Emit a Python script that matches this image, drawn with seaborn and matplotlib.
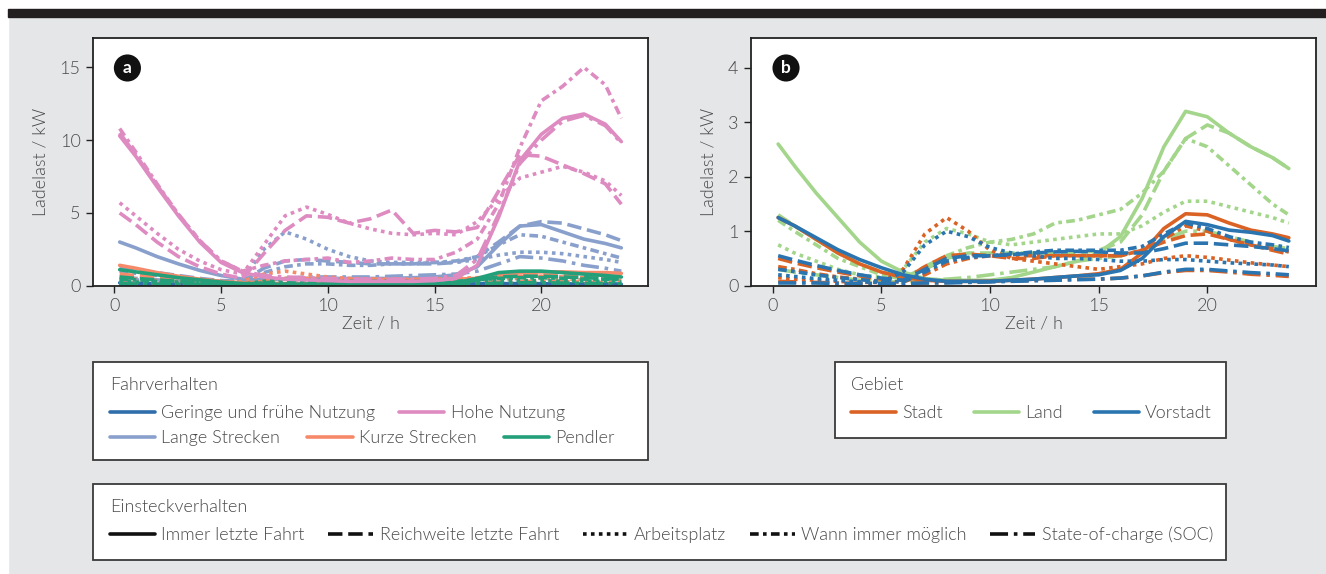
import numpy as np
import pandas as pd
import matplotlib
matplotlib.use('Agg')
import matplotlib.pyplot as plt
from matplotlib.lines import Line2D
from matplotlib.patches import Rectangle
import seaborn as sns

# Zeitachse (h)
ZEIT = [0.25, 1, 2, 3, 4, 5, 6, 7, 8, 9, 10, 11, 12, 13, 14, 15, 16, 17, 18, 19, 20, 21, 22, 23, 23.75]

STECKER = ['Immer letzte Fahrt', 'Reichweite letzte Fahrt', 'Arbeitsplatz',
           'Wann immer möglich', 'State-of-charge (SOC)']

# Panel a: Fahrverhalten
FAHR = ['Geringe und frühe Nutzung', 'Hohe Nutzung', 'Lange Strecken', 'Kurze Strecken', 'Pendler']

geringe_immer = [0.2, 0.17, 0.13, 0.1, 0.07, 0.05, 0.04, 0.04, 0.05, 0.06, 0.07, 0.08, 0.08, 0.09, 0.09, 0.1, 0.1, 0.12, 0.14, 0.15, 0.14, 0.12, 0.11, 0.1, 0.1]
geringe_reich = [0.12, 0.1, 0.08, 0.06, 0.05, 0.04, 0.04, 0.05, 0.07, 0.08, 0.09, 0.1, 0.1, 0.1, 0.1, 0.1, 0.1, 0.11, 0.12, 0.12, 0.12, 0.1, 0.1, 0.09, 0.08]
geringe_arbeit = [0.08, 0.07, 0.06, 0.05, 0.04, 0.04, 0.06, 0.12, 0.15, 0.14, 0.12, 0.1, 0.1, 0.09, 0.09, 0.08, 0.08, 0.08, 0.08, 0.08, 0.08, 0.07, 0.07, 0.06, 0.06]
geringe_wann = [0.1, 0.09, 0.07, 0.06, 0.05, 0.04, 0.04, 0.06, 0.08, 0.09, 0.1, 0.1, 0.11, 0.11, 0.11, 0.11, 0.11, 0.12, 0.13, 0.13, 0.12, 0.11, 0.1, 0.09, 0.09]
geringe_soc = [0.04, 0.04, 0.03, 0.03, 0.02, 0.02, 0.02, 0.03, 0.03, 0.04, 0.04, 0.04, 0.05, 0.05, 0.05, 0.05, 0.05, 0.05, 0.06, 0.06, 0.06, 0.05, 0.05, 0.05, 0.04]

hohe_immer = [10.3, 8.9, 6.8, 4.8, 3.0, 1.6, 0.9, 0.6, 0.45, 0.4, 0.35, 0.3, 0.3, 0.3, 0.3, 0.35, 0.5, 1.4, 4.7, 8.6, 10.4, 11.5, 11.8, 11.1, 9.9]
hohe_reich = [5.0, 4.2, 3.0, 2.0, 1.3, 0.8, 0.5, 2.2, 3.8, 4.8, 4.7, 4.3, 4.6, 5.2, 3.6, 3.8, 3.7, 4.0, 6.5, 9.0, 8.9, 8.3, 7.7, 7.0, 5.6]
hohe_arbeit = [5.7, 4.8, 3.6, 2.5, 1.7, 1.1, 0.8, 2.8, 4.8, 5.4, 4.9, 4.3, 3.9, 3.6, 3.5, 3.6, 3.5, 4.4, 6.0, 7.4, 7.8, 8.2, 7.8, 7.2, 6.2]
hohe_wann = [10.8, 9.2, 7.0, 4.9, 3.1, 1.7, 1.0, 1.4, 1.7, 1.8, 1.9, 1.6, 1.7, 1.9, 1.8, 1.8, 2.3, 3.2, 5.6, 9.5, 12.7, 13.7, 15.0, 13.8, 11.5]
hohe_soc = [10.5, 9.0, 6.9, 4.9, 3.1, 1.7, 1.0, 0.7, 0.6, 0.55, 0.5, 0.45, 0.45, 0.45, 0.45, 0.5, 0.7, 1.8, 4.9, 8.4, 10.0, 11.3, 11.7, 11.0, 9.8]

lange_immer = [3.0, 2.6, 2.0, 1.5, 1.05, 0.7, 0.45, 0.4, 0.45, 0.5, 0.5, 0.5, 0.5, 0.5, 0.55, 0.6, 0.75, 1.3, 2.8, 4.1, 4.2, 3.7, 3.2, 2.9, 2.6]
lange_reich = [1.3, 1.1, 0.9, 0.7, 0.5, 0.35, 0.3, 1.2, 1.7, 1.8, 1.7, 1.6, 1.5, 1.5, 1.5, 1.5, 1.6, 2.0, 3.0, 4.1, 4.4, 4.3, 3.9, 3.5, 3.1]
lange_arbeit = [0.5, 0.4, 0.35, 0.3, 0.25, 0.2, 0.4, 2.5, 3.7, 3.2, 2.5, 2.0, 1.7, 1.6, 1.6, 1.6, 1.6, 1.8, 2.1, 2.3, 2.3, 2.2, 2.0, 1.8, 1.6]
lange_wann = [1.0, 0.85, 0.7, 0.55, 0.4, 0.3, 0.3, 0.9, 1.3, 1.5, 1.5, 1.4, 1.4, 1.5, 1.5, 1.6, 1.7, 2.0, 2.8, 3.5, 3.4, 3.0, 2.6, 2.2, 1.9]
lange_soc = [0.6, 0.5, 0.4, 0.3, 0.25, 0.2, 0.2, 0.4, 0.5, 0.6, 0.6, 0.6, 0.6, 0.65, 0.7, 0.75, 0.8, 1.0, 1.5, 2.0, 1.9, 1.7, 1.4, 1.2, 1.0]

kurze_immer = [1.4, 1.2, 0.9, 0.65, 0.45, 0.3, 0.2, 0.15, 0.15, 0.15, 0.15, 0.15, 0.15, 0.15, 0.15, 0.2, 0.25, 0.4, 0.7, 0.9, 0.95, 0.95, 0.9, 0.9, 0.85]
kurze_reich = [0.8, 0.7, 0.55, 0.4, 0.3, 0.2, 0.15, 0.3, 0.5, 0.5, 0.45, 0.4, 0.4, 0.4, 0.4, 0.4, 0.45, 0.5, 0.65, 0.75, 0.75, 0.7, 0.7, 0.65, 0.6]
kurze_arbeit = [0.3, 0.25, 0.2, 0.15, 0.1, 0.1, 0.3, 0.8, 1.0, 0.8, 0.6, 0.5, 0.45, 0.4, 0.4, 0.4, 0.4, 0.4, 0.45, 0.5, 0.5, 0.45, 0.4, 0.4, 0.35]
kurze_wann = [0.5, 0.45, 0.35, 0.3, 0.2, 0.15, 0.15, 0.3, 0.4, 0.45, 0.45, 0.45, 0.45, 0.45, 0.45, 0.45, 0.5, 0.55, 0.6, 0.65, 0.65, 0.6, 0.55, 0.5, 0.5]
kurze_soc = [0.2, 0.15, 0.12, 0.1, 0.08, 0.06, 0.06, 0.1, 0.12, 0.12, 0.12, 0.12, 0.12, 0.12, 0.12, 0.12, 0.15, 0.2, 0.25, 0.3, 0.3, 0.28, 0.25, 0.22, 0.2]

pendler_immer = [1.1, 0.95, 0.75, 0.55, 0.4, 0.25, 0.15, 0.1, 0.1, 0.1, 0.1, 0.1, 0.1, 0.1, 0.1, 0.12, 0.2, 0.5, 0.9, 1.0, 1.0, 0.9, 0.8, 0.7, 0.6]
pendler_reich = [0.6, 0.5, 0.4, 0.3, 0.2, 0.15, 0.1, 0.1, 0.1, 0.1, 0.1, 0.1, 0.1, 0.1, 0.12, 0.15, 0.2, 0.4, 0.6, 0.65, 0.65, 0.6, 0.55, 0.5, 0.45]
pendler_arbeit = [0.3, 0.25, 0.2, 0.15, 0.1, 0.08, 0.1, 0.3, 0.45, 0.4, 0.35, 0.3, 0.25, 0.25, 0.25, 0.25, 0.25, 0.3, 0.35, 0.35, 0.35, 0.3, 0.3, 0.3, 0.25]
pendler_wann = [0.45, 0.4, 0.3, 0.25, 0.18, 0.12, 0.1, 0.2, 0.3, 0.3, 0.3, 0.3, 0.3, 0.3, 0.3, 0.3, 0.3, 0.4, 0.5, 0.55, 0.55, 0.5, 0.45, 0.45, 0.4]
pendler_soc = [0.15, 0.12, 0.1, 0.08, 0.06, 0.05, 0.05, 0.06, 0.08, 0.08, 0.08, 0.08, 0.08, 0.08, 0.08, 0.08, 0.1, 0.12, 0.18, 0.2, 0.2, 0.18, 0.16, 0.15, 0.12]

# Panel b: Gebiet
GEBIET = ['Stadt', 'Land', 'Vorstadt']

stadt_immer = [1.25, 1.1, 0.85, 0.6, 0.4, 0.25, 0.15, 0.1, 0.08, 0.08, 0.08, 0.1, 0.12, 0.15, 0.18, 0.22, 0.3, 0.6, 1.05, 1.32, 1.3, 1.15, 1.02, 0.95, 0.88]
stadt_reich = [0.5, 0.42, 0.33, 0.25, 0.18, 0.12, 0.1, 0.35, 0.55, 0.58, 0.55, 0.5, 0.5, 0.55, 0.55, 0.55, 0.55, 0.65, 0.8, 0.92, 0.95, 0.85, 0.75, 0.65, 0.58]
stadt_arbeit = [0.15, 0.12, 0.1, 0.08, 0.06, 0.06, 0.3, 0.95, 1.25, 1.0, 0.65, 0.5, 0.45, 0.4, 0.35, 0.3, 0.35, 0.4, 0.5, 0.55, 0.52, 0.47, 0.42, 0.38, 0.35]
stadt_wann = [0.35, 0.3, 0.22, 0.16, 0.12, 0.08, 0.07, 0.2, 0.4, 0.5, 0.55, 0.55, 0.55, 0.55, 0.55, 0.55, 0.55, 0.65, 0.85, 1.1, 1.0, 0.85, 0.75, 0.68, 0.62]
stadt_soc = [0.08, 0.07, 0.06, 0.05, 0.04, 0.04, 0.04, 0.05, 0.06, 0.07, 0.08, 0.09, 0.1, 0.1, 0.12, 0.12, 0.14, 0.18, 0.24, 0.28, 0.28, 0.25, 0.21, 0.19, 0.17]

land_immer = [2.6, 2.2, 1.7, 1.25, 0.8, 0.45, 0.25, 0.13, 0.1, 0.1, 0.1, 0.15, 0.25, 0.35, 0.45, 0.6, 0.9, 1.6, 2.55, 3.2, 3.1, 2.8, 2.55, 2.35, 2.15]
land_reich = [1.3, 1.1, 0.85, 0.6, 0.4, 0.25, 0.15, 0.3, 0.5, 0.6, 0.6, 0.6, 0.6, 0.6, 0.6, 0.65, 0.8, 1.3, 2.1, 2.7, 2.95, 2.8, 2.55, 2.35, 2.15]
land_arbeit = [0.75, 0.6, 0.45, 0.3, 0.2, 0.15, 0.3, 0.8, 1.05, 0.95, 0.8, 0.75, 0.8, 0.85, 0.9, 0.95, 0.95, 1.1, 1.35, 1.55, 1.55, 1.45, 1.35, 1.25, 1.15]
land_wann = [1.2, 1.0, 0.75, 0.5, 0.35, 0.2, 0.12, 0.35, 0.55, 0.7, 0.8, 0.85, 0.95, 1.15, 1.2, 1.3, 1.4, 1.7, 2.1, 2.7, 2.55, 2.2, 1.85, 1.5, 1.3]
land_soc = [0.3, 0.25, 0.2, 0.15, 0.1, 0.08, 0.06, 0.1, 0.12, 0.15, 0.2, 0.25, 0.3, 0.35, 0.45, 0.5, 0.55, 0.65, 0.85, 1.0, 1.0, 0.9, 0.8, 0.72, 0.68]

vorstadt_immer = [1.25, 1.1, 0.88, 0.66, 0.48, 0.33, 0.2, 0.12, 0.08, 0.08, 0.08, 0.1, 0.12, 0.15, 0.18, 0.2, 0.28, 0.5, 0.9, 1.18, 1.12, 1.02, 0.98, 0.92, 0.82]
vorstadt_reich = [0.55, 0.47, 0.37, 0.28, 0.2, 0.14, 0.1, 0.3, 0.5, 0.55, 0.55, 0.57, 0.6, 0.62, 0.63, 0.62, 0.6, 0.6, 0.68, 0.78, 0.78, 0.75, 0.72, 0.68, 0.64]
vorstadt_arbeit = [0.2, 0.17, 0.13, 0.1, 0.07, 0.06, 0.25, 0.75, 1.0, 0.9, 0.7, 0.6, 0.55, 0.5, 0.5, 0.48, 0.45, 0.45, 0.48, 0.48, 0.45, 0.42, 0.4, 0.38, 0.35]
vorstadt_wann = [0.3, 0.26, 0.2, 0.15, 0.11, 0.08, 0.07, 0.25, 0.45, 0.52, 0.55, 0.58, 0.62, 0.65, 0.65, 0.65, 0.65, 0.72, 0.95, 1.15, 1.05, 0.9, 0.8, 0.75, 0.7]
vorstadt_soc = [0.05, 0.05, 0.05, 0.04, 0.04, 0.04, 0.04, 0.05, 0.05, 0.06, 0.07, 0.08, 0.09, 0.1, 0.11, 0.12, 0.14, 0.18, 0.25, 0.3, 0.3, 0.27, 0.24, 0.22, 0.2]

FAHR_FARBEN = ['#2f6eab', '#de8bc2', '#8aa0cc', '#f6896a', '#23a07a']
GEBIET_FARBEN = ['#d96224', '#a3d68b', '#2a74b0']

DASHES = {
    'Immer letzte Fahrt': '',
    'Reichweite letzte Fahrt': (4, 1.6),
    'Arbeitsplatz': (1, 1.2),
    'Wann immer möglich': (2.4, 1.2, 1, 1.2),
    'State-of-charge (SOC)': (5, 1.6, 1, 1.6),
}


def long_frame(groups, series):
    rows = []
    for g in groups:
        for st, vals in zip(STECKER, series[g]):
            for t, v in zip(ZEIT, vals):
                rows.append((g, st, t, v))
    return pd.DataFrame(rows, columns=['Gruppe', 'Stecker', 'Zeit', 'Last'])


df_a = long_frame(FAHR, {
    'Geringe und frühe Nutzung': [geringe_immer, geringe_reich, geringe_arbeit, geringe_wann, geringe_soc],
    'Hohe Nutzung': [hohe_immer, hohe_reich, hohe_arbeit, hohe_wann, hohe_soc],
    'Lange Strecken': [lange_immer, lange_reich, lange_arbeit, lange_wann, lange_soc],
    'Kurze Strecken': [kurze_immer, kurze_reich, kurze_arbeit, kurze_wann, kurze_soc],
    'Pendler': [pendler_immer, pendler_reich, pendler_arbeit, pendler_wann, pendler_soc],
})
df_b = long_frame(GEBIET, {
    'Stadt': [stadt_immer, stadt_reich, stadt_arbeit, stadt_wann, stadt_soc],
    'Land': [land_immer, land_reich, land_arbeit, land_wann, land_soc],
    'Vorstadt': [vorstadt_immer, vorstadt_reich, vorstadt_arbeit, vorstadt_wann, vorstadt_soc],
})

sns.set_style('white')
plt.rcParams['font.family'] = ['Lato', 'DejaVu Sans']
plt.rcParams['font.weight'] = 300
plt.rcParams['axes.labelweight'] = 300
TXT = '#4a4a4a'
BG = '#e5e6e8'
FS = 13

fig = plt.figure(figsize=(13.26, 5.74), dpi=100)
fig.patch.set_facecolor(BG)
W, H = 1326, 574

# white margin, black bar on top
fig.add_artist(Rectangle((0, 0), 8 / W, 1, transform=fig.transFigure, color='white', zorder=0))
fig.add_artist(Rectangle((0, 1 - 9 / H), 1, 9 / H, transform=fig.transFigure, color='white', zorder=0))
fig.add_artist(Rectangle((8 / W, 1 - 17 / H), 1, 8 / H, transform=fig.transFigure, color='#231f20', zorder=0))

ax_a = fig.add_axes([93 / W, 1 - 285.7 / H, 555 / W, 247.4 / H])
ax_b = fig.add_axes([751 / W, 1 - 285.7 / H, 565 / W, 247.4 / H])

# draw order: pink last so it sits on top
order_a = ['Geringe und frühe Nutzung', 'Lange Strecken', 'Kurze Strecken', 'Pendler', 'Hohe Nutzung']
pal_a = dict(zip(FAHR, FAHR_FARBEN))
sns.lineplot(data=df_a, x='Zeit', y='Last', hue='Gruppe', style='Stecker',
             hue_order=order_a, style_order=STECKER, palette=pal_a, dashes=DASHES,
             lw=2.6, legend=False, ax=ax_a)

order_b = ['Land', 'Stadt', 'Vorstadt']
pal_b = dict(zip(GEBIET, GEBIET_FARBEN))
sns.lineplot(data=df_b, x='Zeit', y='Last', hue='Gruppe', style='Stecker',
             hue_order=order_b, style_order=STECKER, palette=pal_b, dashes=DASHES,
             lw=2.6, legend=False, ax=ax_b)

for ax, ymax, yt, letter in [(ax_a, 17, [0, 5, 10, 15], 'a'), (ax_b, 4.54, [0, 1, 2, 3, 4], 'b')]:
    ax.set_xlim(-1, 25)
    ax.set_ylim(0, ymax)
    ax.set_xticks([0, 5, 10, 15, 20])
    ax.set_yticks(yt)
    ax.tick_params(axis='both', direction='out', length=5, width=1, color='#222222',
                   labelsize=FS, labelcolor=TXT, pad=4, left=True, bottom=True)
    for sp in ax.spines.values():
        sp.set_color('#222222')
        sp.set_linewidth(1.3)
    ax.set_xlabel('Zeit / h', fontsize=FS, color=TXT, labelpad=1)
    ax.set_ylabel('Ladelast / kW', fontsize=FS, color=TXT, labelpad=8)
    ax.set_facecolor('white')
    ax.text(0.062, 0.88, letter, transform=ax.transAxes, ha='center', va='center',
            color='white', fontsize=12.5, fontweight='bold',
            bbox=dict(boxstyle='circle,pad=0.32', fc='#111111', ec='none'))

# legend boxes
def box(x0, y0, x1, y1):
    fig.add_artist(Rectangle((x0 / W, 1 - y1 / H), (x1 - x0) / W, (y1 - y0) / H,
                             transform=fig.transFigure, fc='white', ec='#3a3a3a', lw=1.3, zorder=1))


def row(items, x, y, spacing):
    handles = [Line2D([], [], color=c, lw=2.6, linestyle=ls) for c, ls, _ in items]
    labels = [lab for _, _, lab in items]
    leg = fig.legend(handles, labels, loc='center left', bbox_to_anchor=(x / W, 1 - y / H),
                     ncol=len(items), frameon=False, fontsize=FS, handlelength=2.5,
                     handletextpad=0.35, columnspacing=spacing, borderpad=0, borderaxespad=0,
                     labelcolor=TXT)
    leg.set_zorder(3)


box(93, 362, 648, 460)
fig.text(110 / W, 1 - 385 / H, 'Fahrverhalten', fontsize=FS, color=TXT, va='center', ha='left')
row([(FAHR_FARBEN[0], '-', FAHR[0]), (FAHR_FARBEN[1], '-', FAHR[1])], 110, 413, 1.3)
row([(FAHR_FARBEN[2], '-', FAHR[2]), (FAHR_FARBEN[3], '-', FAHR[3]), (FAHR_FARBEN[4], '-', FAHR[4])], 110, 438, 1.5)

box(835, 362, 1226, 438)
fig.text(851 / W, 1 - 385 / H, 'Gebiet', fontsize=FS, color=TXT, va='center', ha='left')
row([(c, '-', g) for c, g in zip(GEBIET_FARBEN, GEBIET)], 851, 413, 1.7)

box(93, 484, 1226, 560)
fig.text(110 / W, 1 - 507 / H, 'Einsteckverhalten', fontsize=FS, color=TXT, va='center', ha='left')
stil = [(0, DASHES[s]) if DASHES[s] else '-' for s in STECKER]
row([('#111111', ls, s) for ls, s in zip(stil, STECKER)], 110, 535, 1.3)

fig.savefig('out.png', dpi=100, facecolor=fig.get_facecolor())
